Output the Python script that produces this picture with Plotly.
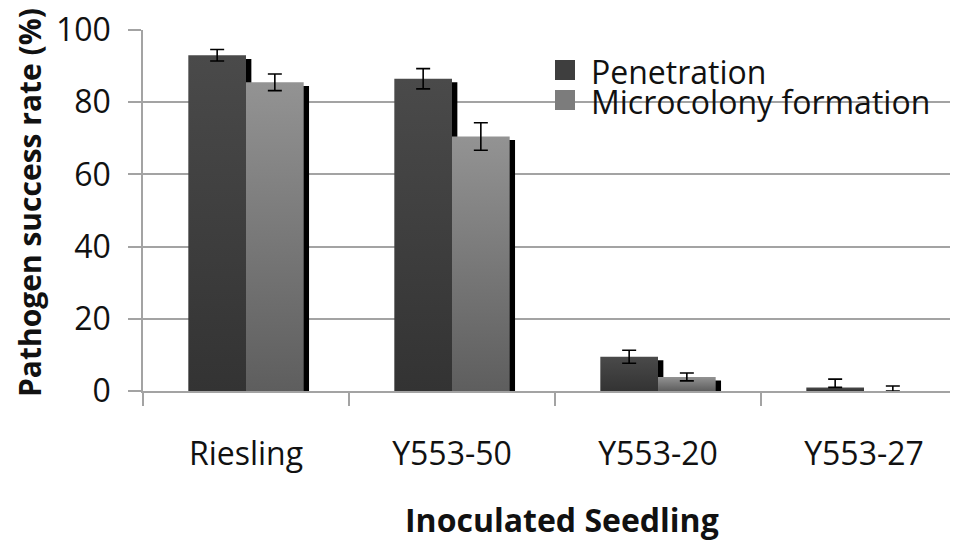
import plotly.graph_objects as go

# ---------------- data ----------------
categories = ["Riesling", "Y553-50", "Y553-20", "Y553-27"]
series_names = ["Penetration", "Microcolony formation"]
penetration = [93.0, 86.5, 9.5, 1.0]
penetration_err_plus = [1.6, 2.8, 1.8, 2.3]
penetration_err_minus = [1.6, 2.8, 1.8, 0.0]
microcolony = [85.5, 70.5, 3.9, 0.0]
microcolony_err_plus = [2.3, 3.8, 1.1, 1.4]
microcolony_err_minus = [2.3, 3.8, 1.1, 0.0]
y_tick_values = [0, 20, 40, 60, 80, 100]
y_title = "Pathogen success rate (%)"
x_title = "Inoculated Seedling"

# ---------------- style ----------------
OFF = 8  # default page body margin
W, H = 958 - OFF, 542 - OFF
ML, MR, MT, MB = 135, 0, 22, 151
PW, PH = W - ML - MR, H - MT - MB
CAT_PX = 206.0
BAR_W = 0.28
SH_DX = 0.026
SH_DY = 1.0
FONT = "Open Sans"
GRID = "#a3a3a3"
TXT = "#111111"
grad = {
    "Penetration": [[0, "#333333"], [1, "#4a4a4a"]],
    "Microcolony formation": [[0, "#5e5e5e"], [1, "#939393"]],
}
legend_colors = {"Penetration": "#3e3e3e", "Microcolony formation": "#7c7c7c"}


def px_x(p):
    return (p - OFF - ML) / PW


def px_y(p):
    return (H - MB - (p - OFF)) / PH


series = [
    (series_names[0], penetration, penetration_err_plus, penetration_err_minus, -BAR_W),
    (series_names[1], microcolony, microcolony_err_plus, microcolony_err_minus, 0.0),
]

fig = go.Figure()

for i, cat in enumerate(categories):
    for name, vals, ep, em, off in series:
        v = vals[i]
        x0 = i + off
        top = v - SH_DY
        if top > 0:
            sx0, sx1 = x0 + SH_DX, x0 + SH_DX + BAR_W
            fig.add_trace(go.Scatter(
                x=[sx0, sx1, sx1, sx0, sx0], y=[0, 0, top, top, 0],
                mode="lines", fill="toself", fillcolor="#000000",
                line=dict(width=0), hoverinfo="skip", showlegend=False))
        if v > 0:
            x1 = x0 + BAR_W
            fig.add_trace(go.Scatter(
                x=[x0, x1, x1, x0, x0], y=[0, 0, v, v, 0],
                mode="lines", fill="toself",
                fillgradient=dict(type="vertical", colorscale=grad[name]),
                line=dict(width=0), name=name, showlegend=False,
                hovertemplate=f"{cat}<br>{name}: {v}<extra></extra>"))

for name, vals, ep, em, off in series:
    fig.add_trace(go.Scatter(
        x=[i + off + BAR_W / 2 for i in range(len(categories))], y=vals,
        mode="markers", marker=dict(size=1, opacity=0), showlegend=False,
        hoverinfo="skip",
        error_y=dict(type="data", symmetric=False, array=ep, arrayminus=em,
                     color="#000000", thickness=1.6, width=7)))

leg_rows = [(series_names[0], 70), (series_names[1], 100)]
shapes = []
annotations = []
shapes.append(dict(type="rect", xref="paper", yref="paper", layer="between",
                   x0=px_x(525), x1=1.0, y0=px_y(120), y1=px_y(50),
                   fillcolor="white", line=dict(width=0)))
shapes.append(dict(type="rect", xref="paper", yref="y", layer="between",
                   x0=0.0, x1=px_x(525), y0=79.3, y1=80.7,
                   fillcolor="rgba(255,255,255,0.85)", line=dict(width=0)))
for name, cy in leg_rows:
    shapes.append(dict(type="rect", xref="paper", yref="paper",
                       x0=px_x(555), x1=px_x(575), y0=px_y(cy + 10), y1=px_y(cy - 10),
                       fillcolor=legend_colors[name], line=dict(width=0)))
    annotations.append(dict(xref="paper", yref="paper", x=px_x(589), y=px_y(cy + 1),
                            text=name, showarrow=False, xanchor="left", yanchor="middle",
                            font=dict(family=FONT, size=32, color=TXT)))

annotations.append(dict(xref="paper", yref="paper", x=px_x(29), y=px_y(203),
                        text=f"<b>{y_title}</b>", textangle=-90, showarrow=False,
                        xanchor="center", yanchor="middle",
                        font=dict(family=FONT, size=30, color=TXT)))
annotations.append(dict(xref="paper", yref="paper", x=px_x(562), y=px_y(520),
                        text=f"<b>{x_title}</b>", showarrow=False,
                        xanchor="center", yanchor="middle",
                        font=dict(family=FONT, size=32, color=TXT)))

fig.update_layout(
    width=W, height=H,
    margin=dict(l=ML, r=MR, t=MT, b=MB, pad=0),
    plot_bgcolor="white", paper_bgcolor="white",
    showlegend=False,
    shapes=shapes, annotations=annotations,
    font=dict(family=FONT, color=TXT),
    xaxis=dict(
        range=[-0.5, -0.5 + PW / CAT_PX],
        tickvals=list(range(len(categories))), ticktext=categories,
        ticks="", showgrid=False, zeroline=False,
        showline=True, linecolor=GRID, linewidth=1.6,
        tickfont=dict(family=FONT, size=32, color=TXT),
        ticklabelstandoff=34, ticklabeloverflow="allow",
        minor=dict(tickvals=[-0.5, 0.5, 1.5, 2.5], ticks="outside",
                   ticklen=13, tickcolor=GRID, tickwidth=1.6, showgrid=False),
        fixedrange=True,
    ),
    yaxis=dict(
        range=[0, 100], tickvals=y_tick_values,
        ticks="outside", ticklen=13, tickcolor=GRID, tickwidth=1.6,
        showgrid=True, gridcolor=GRID, gridwidth=1.6,
        zeroline=False, showline=True, linecolor=GRID, linewidth=1.6,
        tickfont=dict(family=FONT, size=32, color=TXT),
        ticklabelstandoff=11, ticklabeloverflow="allow",
        fixedrange=True,
    ),
)

fig.write_html("out.html")
